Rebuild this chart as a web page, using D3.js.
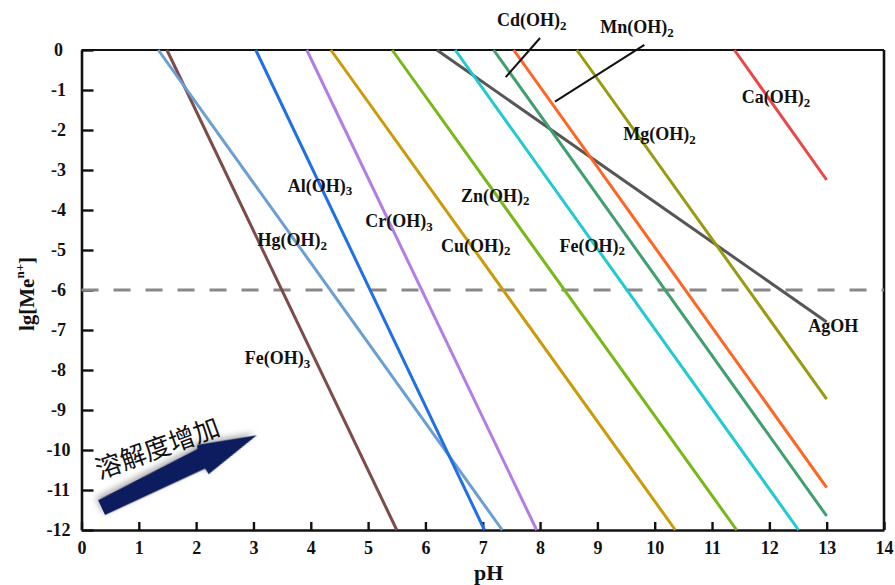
<!DOCTYPE html>
<html>
<head>
<meta charset="utf-8">
<script src="https://cdn.jsdelivr.net/npm/d3@7"></script>
<style>
    body { margin: 0; background: #fff; }
    svg text { font-family: "Liberation Serif", "Times New Roman", serif; font-weight: bold; fill: #111; }
</style>
</head>
<body>
<div id="chart"></div>
<script>

// Hydroxide species, one straight line each (lg[Me] vs pH)
const species  = ["Fe(OH)3", "Hg(OH)2", "Al(OH)3", "Cr(OH)3", "Cu(OH)2", "Zn(OH)2",
                  "AgOH", "Fe(OH)2", "Cd(OH)2", "Mn(OH)2", "Mg(OH)2", "Ca(OH)2"];
const pHStart  = [1.49, 1.34, 3.04, 3.93, 4.35, 5.42, 6.20, 6.52, 7.19, 7.54, 8.64, 11.39];
const lgStart  = [0, 0, 0, 0, 0, 0, 0, 0, 0, 0, 0, 0];
const pHEnd    = [5.50, 7.34, 7.03, 7.94, 10.36, 11.43, 13, 12.51, 13, 13, 13, 13];
const lgEnd    = [-12, -12, -12, -12, -12, -12, -6.8, -12, -11.65, -10.94, -8.73, -3.25];
const lineColors = ["#7d4b49", "#6b9fd3", "#1f6fe6", "#b47de4", "#cc9a08", "#76b817",
                    "#565656", "#22c9d2", "#3f9f70", "#ff6422", "#9a9a12", "#ec4546"];

// Label anchors (pH, lg) for each species, same order
const labelPH = [2.85, 3.07, 3.60, 4.95, 6.27, 6.62, 12.68, 8.34, 7.25, 9.05, 9.45, 11.52];
const labelLg = [-7.85, -4.90, -3.54, -4.42, -5.04, -3.79, -7.04, -5.04, 0.60, 0.43, -2.25, -1.33];

// Leader lines for Cd(OH)2 and Mn(OH)2
const leaderFrom = [[8.00, 0.30], [9.82, 0.13]];
const leaderTo   = [[7.40, -0.68], [8.26, -1.29]];

// Axis ticks
const xTickValues = [0, 1, 2, 3, 4, 5, 6, 7, 8, 9, 10, 11, 12, 13, 14];
const yTickValues = [0, -1, -2, -3, -4, -5, -6, -7, -8, -9, -10, -11, -12];

// Reference level and the "solubility increases" arrow
const limitLg = -6;
const arrowFrom = [0.35, -11.44];
const arrowTo = [3.06, -9.63];
const arrowText = "溶解度增加";
const arrowTextAt = [1.32, -9.94];


class SolubilityChart {

    constructor(parentElement) {
        this.parentElement = parentElement;
        this.initVis();
    }

    initVis() {
        let vis = this;

        vis.width = 895;
        vis.height = 585;
        vis.margin = {top: 50, right: 11, bottom: 55, left: 81.5};

        vis.svg = d3.select("#" + vis.parentElement)
            .append("svg")
            .attr("width", vis.width)
            .attr("height", vis.height);

        vis.x = d3.scaleLinear()
            .domain([0, 14])
            .range([vis.margin.left, vis.width - vis.margin.right]);

        vis.y = d3.scaleLinear()
            .domain([-12, 0])
            .range([vis.height - vis.margin.bottom, vis.margin.top]);

        // shadow for the arrow
        let defs = vis.svg.append("defs");
        defs.append("filter")
            .attr("id", "arrowShadow")
            .attr("x", "-20%").attr("y", "-60%").attr("width", "140%").attr("height", "220%")
            .append("feDropShadow")
            .attr("dx", -1).attr("dy", -3)
            .attr("stdDeviation", 3)
            .attr("flood-color", "#666")
            .attr("flood-opacity", 0.55);

        vis.drawAxes();
        vis.updateVis();
    }

    drawAxes() {
        let vis = this;
        let x0 = vis.x.range()[0], x1 = vis.x.range()[1];
        let y0 = vis.y.range()[0], y1 = vis.y.range()[1];

        // top and right frame
        vis.svg.append("line")
            .attr("x1", x0).attr("x2", x1).attr("y1", y1).attr("y2", y1)
            .attr("stroke", "#111").attr("stroke-width", 2);
        vis.svg.append("line")
            .attr("x1", x1).attr("x2", x1).attr("y1", y1).attr("y2", y0)
            .attr("stroke", "#111").attr("stroke-width", 2.6);

        // X axis
        let xAxis = vis.svg.append("g")
            .attr("transform", `translate(0,${y0})`)
            .call(d3.axisBottom(vis.x)
                .tickValues(xTickValues)
                .tickFormat(d3.format("d"))
                .tickSizeInner(-8)
                .tickSizeOuter(0)
                .tickPadding(11));

        // Y axis
        let yAxis = vis.svg.append("g")
            .attr("transform", `translate(${x0},0)`)
            .call(d3.axisLeft(vis.y)
                .tickValues(yTickValues)
                .tickFormat(d => d === 0 ? "0" : "-" + Math.abs(d))
                .tickSizeInner(-12)
                .tickSizeOuter(0)
                .tickPadding(14));

        [xAxis, yAxis].forEach(ax => {
            ax.select(".domain").attr("stroke", "#111").attr("stroke-width", 2.6);
            ax.selectAll(".tick line").attr("stroke", "#111").attr("stroke-width", 2.4);
            ax.selectAll("text")
                .attr("fill", "#111")
                .style("font-family", "'Liberation Serif', serif")
                .style("font-weight", "bold")
                .style("font-size", "18px");
        });

        yAxis.selectAll("text")
            .attr("text-anchor", "middle")
            .attr("x", -23);

        // axis titles
        vis.svg.append("text")
            .attr("x", (x0 + x1) / 2 + 6)
            .attr("y", 580)
            .attr("text-anchor", "middle")
            .style("font-size", "22px")
            .text("pH");

        let yTitle = vis.svg.append("text")
            .attr("transform", `translate(34,${(y0 + y1) / 2 + 4}) rotate(-90)`)
            .attr("text-anchor", "middle")
            .style("font-size", "21px");
        yTitle.append("tspan").text("lg[Me");
        yTitle.append("tspan").attr("font-size", "0.62em").attr("dy", "-0.75em").text("n+");
        yTitle.append("tspan").attr("dy", "0.47em").text("]");
    }

    updateVis() {
        let vis = this;

        let series = species.map((name, i) => ({
            name: name,
            x1: pHStart[i], y1: lgStart[i],
            x2: pHEnd[i], y2: lgEnd[i],
            color: lineColors[i],
            lx: labelPH[i], ly: labelLg[i]
        }));

        // dashed reference level
        vis.svg.append("line")
            .attr("x1", vis.x(0)).attr("x2", vis.x(14))
            .attr("y1", vis.y(limitLg)).attr("y2", vis.y(limitLg))
            .attr("stroke", "#888")
            .attr("stroke-width", 3)
            .attr("stroke-dasharray", "17,15");

        // solubility lines
        vis.svg.append("g")
            .selectAll("line")
            .data(series)
            .join("line")
            .attr("x1", d => vis.x(d.x1))
            .attr("y1", d => vis.y(d.y1))
            .attr("x2", d => vis.x(d.x2))
            .attr("y2", d => vis.y(d.y2))
            .attr("stroke", d => d.color)
            .attr("stroke-width", 3);

        // leader lines
        vis.svg.append("g")
            .selectAll("line")
            .data(leaderFrom)
            .join("line")
            .attr("x1", d => vis.x(d[0]))
            .attr("y1", d => vis.y(d[1]))
            .attr("x2", (d, i) => vis.x(leaderTo[i][0]))
            .attr("y2", (d, i) => vis.y(leaderTo[i][1]))
            .attr("stroke", "#111")
            .attr("stroke-width", 2);

        // labels, trailing digit as subscript
        vis.svg.append("g")
            .selectAll("text")
            .data(series)
            .join("text")
            .attr("x", d => vis.x(d.lx))
            .attr("y", d => vis.y(d.ly))
            .style("font-size", "18px")
            .each(function(d) {
                let m = d.name.match(/^(.*?)(\d)$/);
                let t = d3.select(this);
                if (m) {
                    t.append("tspan").text(m[1]);
                    t.append("tspan").attr("font-size", "0.72em").attr("dy", "0.3em").text(m[2]);
                } else {
                    t.text(d.name);
                }
            });

        // arrow
        let ax = vis.x(arrowFrom[0]), ay = vis.y(arrowFrom[1]);
        let bx = vis.x(arrowTo[0]), by = vis.y(arrowTo[1]);
        let len = Math.hypot(bx - ax, by - ay);
        let angle = Math.atan2(by - ay, bx - ax) * 180 / Math.PI;
        let k = len / 171;
        let shape = [[0, -8.2], [111 * k, -12.8], [113 * k, -16.5], [len, 0],
                     [111 * k, 15], [110 * k, 8.4], [0, 8.2]];

        vis.svg.append("g")
            .attr("transform", `translate(${ax},${ay}) rotate(${angle})`)
            .append("path")
            .attr("d", d3.line()(shape) + "Z")
            .attr("fill", "#0b1f5e")
            .attr("filter", "url(#arrowShadow)");

        vis.svg.append("text")
            .attr("transform", `translate(${vis.x(arrowTextAt[0])},${vis.y(arrowTextAt[1])}) rotate(-20)`)
            .attr("text-anchor", "middle")
            .attr("dy", "0.38em")
            .style("font-family", "'Noto Sans CJK SC', sans-serif")
            .style("font-weight", "normal")
            .style("font-size", "26px")
            .attr("fill", "#1a1a1a")
            .text(arrowText);
    }
}

new SolubilityChart("chart");
</script>
</body>
</html>
